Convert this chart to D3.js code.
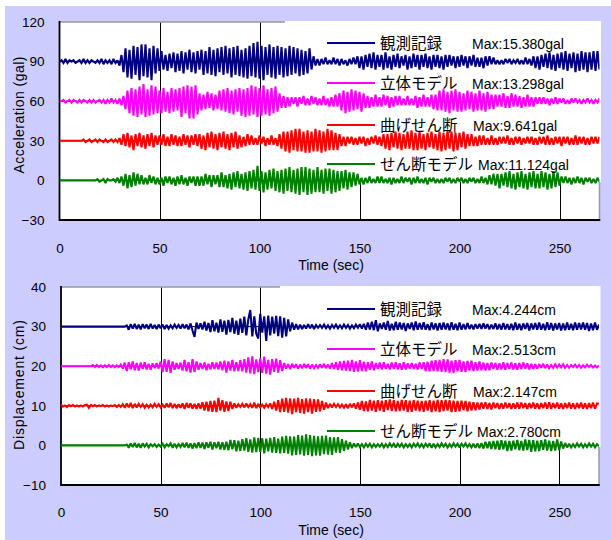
<!DOCTYPE html>
<html><head><meta charset="utf-8">
<script src="https://cdn.jsdelivr.net/npm/d3@7"></script>
<style>body{margin:0;background:#fff}svg{display:block}</style></head>
<body>
<script>
// ---------- data ----------
const seriesNames = ["観測記録", "立体モデル", "曲げせん断", "せん断モデル"];
const seriesColors = ["#000080", "#FF00FF", "#FF0000", "#008000"];
const accMaxLabels = ["Max:15.380gal", "Max:13.298gal", "Max:9.641gal", "Max:11.124gal"];
const dispMaxLabels = ["Max:4.244cm", "Max:2.513cm", "Max:2.147cm", "Max:2.780cm"];
const accOffsets = [90, 60, 30, 0];
const dispOffsets = [30, 20, 10, 0];
const xTicks = [0, 50, 100, 150, 200, 250];
const accTicks = [-30, 0, 30, 60, 90, 120];
const dispTicks = [-10, 0, 10, 20, 30, 40];
const sampleStep = 1; // sec

// acceleration (gal), one value per second, 0..270 s
const obsAcc = [0,1,-1,2,-1,1,0,1,-1,0, 1,-1,2,-1,1,-1,1,0,-1,1, -1,2,-2,1,-1,1,-2,2,-1,1,
 -3,5,-8,10,-12,9,-13,12,-10,11, -14,13,-11,13,-12,10,-14,12,-9,10, -7,8,-6,5,-7,6,-5,7,-8,6,
 -7,8,-9,7,-6,9,-8,7,-9,8, -6,9,-10,8,-9,11,-10,9,-11,10, -8,11,-10,12,-9,10,-12,11,-10,12,
 -11,9,-12,10,-13,12,-11,14,-12,15, -13,12,-14,11,-10,13,-12,11,-13,12, -10,11,-12,10,-11,12,-10,11,-9,10,
 -11,9,-10,8,-9,10,-6,4,-3,2, -3,2,-2,3,-2,1,-2,3,-2,2, -3,2,-2,1,-3,2,-2,3,-2,4,
 -5,4,-6,5,-4,6,-5,7,-6,5, -4,5,-6,7,-5,4,-6,5,-4,6, -5,4,-3,5,-6,4,-5,6,-4,5,
 -6,5,-4,6,-5,4,-6,5,-4,5, -5,4,-6,5,-4,5,-3,4,-5,4, -4,5,-3,4,-5,4,-3,5,-4,3,
 -4,3,-5,4,-3,4,-2,3,-2,1, -2,1,-2,2,-1,2,-2,1,-1,2, -2,1,-2,3,-2,2,-3,4,-5,4,
 -6,5,-4,6,-5,7,-6,5,-7,6, -5,7,-6,8,-7,6,-5,7,-8,6, -7,8,-6,7,-8,7,-6,8,-7,8, -6];
const modelAcc = [0,0,1,-1,0,1,-1,1,0,-1, 1,-1,1,0,-1,1,-1,1,-1,0, 1,-1,1,-2,1,-1,2,-1,1,-2,
 2,-3,4,-6,8,-9,10,-11,9,-12, 11,-10,13,-12,9,-11,12,-10,11,-9, 8,-9,10,-8,7,-9,10,-8,9,-7,
 10,-12,11,-9,12,-13,11,-13,12,-10, 6,-7,5,-6,7,-5,6,-7,5,-6, 8,-7,9,-8,10,-9,8,-10,9,-8,
 10,-11,9,-12,10,-11,12,-10,11,-12, 10,-11,12,-10,9,-11,10,-9,11,-8, 6,-5,4,-5,3,-4,3,-2,3,-4,
 3,-2,4,-3,2,-3,4,-2,3,-3, 2,-3,4,-3,2,-4,3,-4,5,-4, 6,-7,8,-9,7,-8,9,-7,8,-6,
 7,-8,6,-5,4,-5,3,-4,5,-4, 3,-4,5,-3,4,-5,3,-4,4,-3, 4,-3,2,-3,4,-3,2,-3,4,-5,
 3,-4,5,-4,3,-4,5,-6,5,-7, 8,-7,9,-8,7,-9,8,-7,9,-8, 7,-8,6,-7,8,-6,7,-8,6,-7,
 8,-7,6,-8,7,-6,5,-6,5,-4, 5,-4,6,-5,4,-5,6,-4,5,-4, 4,-5,3,-4,5,-4,3,-4,3,-2,
 3,-2,3,-2,2,-3,2,-2,3,-2, 2,-1,2,-2,1,-2,2,-1,2,-1, 1,-2,1,-1,2,-1,1,-2,1,-1, 2];
const bsAcc = [0,0,0,0,0,0,0,0,0,0, 0,0,1,-1,0,1,-1,0,1,-1, 1,0,-1,1,-1,0,1,-1,1,-1,
 2,-3,5,-4,6,-5,4,-7,5,-4, 6,-5,4,-6,5,-4,6,-5,4,-3, 4,-3,5,-4,3,-4,5,-3,4,-4,
 3,-4,5,-3,4,-5,4,-3,5,-4, 5,-6,4,-7,6,-5,7,-6,5,-7, 6,-5,7,-6,5,-7,6,-5,7,-6,
 4,-5,3,-4,5,-3,4,-3,2,-3, 4,-2,3,-4,2,-3,4,-3,2,-4, 5,-6,7,-8,7,-9,8,-7,9,-8,
 9,-8,7,-9,8,-9,7,-8,9,-8, 8,-9,7,-8,9,-7,8,-7,6,-7, 5,-4,3,-4,3,-2,3,-3,2,-3,
 3,-2,3,-4,2,-3,3,-2,4,-3, 3,-4,5,-6,5,-7,6,-5,7,-6, 6,-7,5,-6,7,-6,8,-7,6,-7,
 7,-6,5,-7,6,-5,7,-6,5,-7, 7,-8,6,-7,8,-6,7,-8,6,-7, 6,-5,7,-6,5,-4,5,-4,3,-4,
 4,-3,4,-3,2,-3,4,-3,2,-3, 3,-2,3,-2,4,-3,2,-3,3,-2, 3,-3,2,-2,3,-2,3,-3,2,-3,
 3,-2,3,-3,4,-3,2,-3,3,-2, 3,-4,3,-2,3,-3,2,-3,4,-3, 3,-2,3,-3,2,-3,3,-2,3,-2, 3];
const shearAcc = [0,0,0,0,0,0,0,0,0,0, 0,0,0,0,0,0,0,0,0,1, -1,0,1,-2,1,0,0,1,-1,2,
 -2,3,-4,5,-6,4,-5,6,-4,5, -3,4,-3,2,-3,4,-2,3,-3,2, -3,2,-4,3,-2,3,-3,2,-4,3,
 -3,4,-3,2,-4,3,-2,3,-4,3, -4,3,-4,5,-3,4,-5,4,-3,4, -5,6,-5,4,-6,5,-7,6,-5,7,
 -6,5,-7,6,-8,7,-6,8,-7,11, -8,7,-9,6,-7,8,-6,9,-8,7, -9,8,-10,9,-8,10,-9,8,-10,9,
 -11,10,-9,10,-11,9,-10,8,-9,10, -9,8,-10,9,-8,9,-10,8,-9,7, -8,7,-6,8,-7,6,-5,6,-4,5,
 -3,2,-3,2,-2,3,-2,1,-2,3, -2,3,-2,1,-2,2,-3,2,-2,1, -2,3,-2,2,-1,2,-3,2,-2,3,
 -2,1,-2,2,-3,2,-1,2,-2,1, -2,1,-2,2,-1,2,-2,1,-2,2, -1,2,-2,1,-2,2,-1,2,-2,1,
 -2,3,-2,2,-3,4,-3,5,-4,5, -6,5,-4,6,-5,7,-6,5,-7,6, -5,7,-6,5,-7,6,-5,7,-6,5,
 -6,7,-5,6,-7,5,-6,7,-5,6, -4,3,-2,3,-2,2,-3,2,-2,3, -2,2,-3,2,-1,2,-2,1,-2,2, -1];

// displacement (cm), one value per second, 0..270 s
const obsDisp = [0,0,0,0,0,0,0,0,0,0, 0,0,0,0,0,0,0,0,0,0, 0,0,0,0,0,0,0,0,0,0,
 0,0,0,0.3,-0.8,0.6,-0.5,0.7,-0.6,0.5, -0.7,0.6,-0.4,0.5,-0.6,0.7,-0.5,0.4,-0.6,0.5, -0.4,0.5,-0.6,0.4,-0.5,0.3,-0.4,0.5,-0.3,0.4,
 -0.5,0.6,-0.4,0.5,-0.7,0.8,-1.0,-2.6,1.0,-0.6, 0.8,-0.7,1.2,-1.0,0.9,-1.4,1.6,-1.2,1.0,-1.5, 1.8,-1.3,1.5,-2.0,1.7,-1.4,2.2,-1.8,1.5,-2.1,
 2.0,-1.6,2.5,-2.2,1.8,4.2,-2.5,2.6,-1.8,-3.0, 3.2,-1.5,2.6,-3.6,2.8,-2.2,2.5,-1.8,2.7,-2.4, 2.6,-2.8,2.2,-2.5,1.8,-1.2,1.0,-0.8,0.6,-0.7,
 0.5,-0.6,0.4,-0.5,0.6,-0.4,0.5,-0.6,0.4,-0.3, 0.4,-0.3,0.5,-0.4,0.3,-0.5,0.4,-0.3,0.5,-0.4, 0.3,-0.4,0.5,-0.3,0.4,-0.5,0.3,-0.4,0.5,-0.3,
 0.6,-0.5,0.7,-0.8,1.0,-0.7,1.2,-0.9,1.6,-1.2, 0.8,-0.6,1.0,-0.8,1.4,-1.0,0.7,-0.9,1.2,-0.8, 1.0,-0.7,0.9,-1.1,0.8,-0.6,1.0,-0.9,1.3,-0.8,
 0.9,-0.7,1.1,-0.8,0.6,-0.9,1.0,-0.7,0.8,-1.0, 0.9,-0.8,1.0,-0.7,0.8,-0.9,1.1,-0.8,0.7,-0.9, 1.0,-0.8,0.6,-0.7,0.9,-0.6,0.5,-0.7,0.6,-0.5,
 0.7,-0.6,0.8,-0.5,0.6,-0.7,0.5,-0.6,0.8,-0.7, 0.6,-0.8,0.9,-0.7,0.6,-0.8,0.7,-0.9,1.0,-0.8, 0.7,-0.9,0.8,-0.6,0.9,-1.0,0.8,-0.7,0.9,-0.8,
 1.0,-0.8,0.7,-0.9,1.1,-0.8,0.9,-1.0,0.8,-0.7, 0.9,-1.0,0.8,-0.9,1.0,-0.8,0.7,-0.9,1.0,-0.8, 0.9,-0.7,1.0,-0.8,0.9,-1.1,0.8,-0.9,1.0,-0.8, 0.5];
const modelDisp = [0,0,0,0,0,0,0,0,0,0, 0,0,0,0,0,0,0.3,-0.2,0.3,-0.2, 0.2,-0.3,0.2,-0.2,0.3,-0.2,0.2,-0.3,0.2,-0.2,
 0.4,-0.6,0.9,-1.2,1.0,-0.8,1.2,-1.0,0.8,-1.1, 0.9,-0.7,1.0,-0.8,0.6,-0.9,0.7,-0.5,0.8,-0.6, 1.2,-1.5,1.8,-1.4,1.6,-1.7,1.2,-0.9,0.8,-0.7,
 0.9,-1.1,1.6,-1.3,1.0,-1.6,1.8,-1.5,1.2,-0.9, 0.8,-0.7,0.9,-1.0,0.6,-0.8,1.0,-0.7,0.9,-0.8, 1.2,-1.0,1.4,-1.6,1.2,-1.1,1.6,-1.3,1.0,-1.2,
 1.5,-1.3,1.8,-1.6,2.2,-1.8,2.5,-2.0,1.7,-1.5, 2.0,-1.7,2.4,-1.9,1.6,-2.1,1.8,-1.4,1.9,-1.6, 1.5,-1.2,0.8,-0.6,0.5,-0.7,0.6,-0.4,0.5,-0.6,
 0.4,-0.5,0.6,-0.4,0.5,-0.6,0.4,-0.5,0.3,-0.4, 0.5,-0.4,0.6,-0.5,0.4,-0.6,0.8,-0.7,1.0,-0.9, 1.2,-1.0,1.3,-1.1,1.4,-1.2,1.6,-1.4,1.2,-1.3,
 1.5,-1.2,1.1,-1.3,1.0,-0.9,1.2,-1.0,0.8,-0.7, 0.9,-0.8,1.0,-0.7,0.6,-0.8,0.9,-0.7,1.0,-0.8, 0.7,-0.9,1.0,-0.8,0.7,-0.6,0.8,-0.7,0.6,-0.8,
 0.9,-0.7,1.0,-1.2,1.1,-1.3,1.4,-1.2,1.5,-1.3, 1.6,-1.4,1.8,-1.5,1.7,-1.6,1.4,-1.7,1.5,-1.3, 1.6,-1.4,1.2,-1.5,1.3,-1.1,1.4,-1.2,1.0,-1.1,
 1.2,-1.0,0.9,-1.1,0.8,-1.0,0.9,-0.7,0.8,-0.9, 0.7,-0.8,1.0,-0.9,0.8,-0.7,0.9,-0.8,0.7,-0.9, 0.8,-0.7,0.9,-0.6,0.7,-0.8,0.6,-0.7,0.5,-0.6,
 0.5,-0.4,0.6,-0.5,0.4,-0.5,0.3,-0.4,0.5,-0.3, 0.4,-0.3,0.5,-0.4,0.3,-0.4,0.3,-0.2,0.4,-0.3, 0.3,-0.4,0.2,-0.3,0.4,-0.2,0.3,-0.3,0.2,-0.3, 0.2];
const bsDisp = [0.3,-0.2,0.1,-0.3,0.2,-0.1,0.2,-0.2,0.1,-0.2, 0.1,-0.2,0.2,0.3,-0.5,0.2,-0.1,0.2,-0.2,0.1, -0.1,0.2,-0.2,0.1,-0.2,0.1,-0.1,0.2,-0.3,0.2,
 -0.3,0.4,-0.5,0.6,-0.4,0.7,-0.6,0.5,-0.4,0.5, -0.3,0.4,-0.5,0.3,-0.4,0.3,-0.4,0.5,-0.3,0.4, -0.4,0.3,-0.5,0.6,-0.4,0.7,-0.6,0.5,-0.6,0.4,
 -0.5,0.6,-0.8,0.7,-0.5,0.6,-0.7,0.5,-0.8,0.6, -0.7,0.9,-1.2,1.0,-1.4,1.2,-1.5,1.3,-1.6,2.0, -1.2,1.4,-1.5,1.1,-1.3,1.0,-0.8,0.6,-0.5,0.4,
 -0.3,0.5,-0.4,0.6,-0.3,0.4,-0.5,0.8,-0.6,0.5, -0.4,0.3,-0.5,0.4,-0.3,0.6,-0.8,1.0,-1.2,1.4, -1.6,1.8,-1.5,2.0,-1.7,1.9,-2.1,1.8,-1.6,2.0,
 -1.8,1.7,-2.0,1.9,-1.6,1.8,-2.0,1.7,-1.5,1.6, -1.4,1.2,-1.0,0.8,-0.6,0.5,-0.4,0.5,-0.3,0.4, -0.4,0.3,-0.5,0.4,-0.6,0.5,-0.4,0.6,-0.7,0.8,
 -1.0,1.2,-1.3,1.1,-1.4,1.5,-1.2,1.3,-1.5,1.4, -1.2,1.3,-1.5,1.4,-1.1,1.6,-1.3,1.5,-1.4,1.2, -1.3,1.5,-1.2,1.4,-1.6,1.3,-1.5,1.4,-1.2,1.3,
 -1.4,1.2,-1.5,1.3,-1.2,1.4,-1.6,1.3,-1.4,1.5, -1.6,1.4,-1.3,1.5,-1.2,1.4,-1.6,1.3,-1.5,1.2, -1.4,1.3,-1.1,1.2,-1.4,1.0,-1.2,0.9,-1.1,0.8,
 -0.9,0.8,-0.7,0.9,-0.8,0.7,-0.9,0.8,-0.6,0.7, -0.8,0.6,-0.7,0.8,-0.6,0.7,-0.8,0.6,-0.7,0.8, -0.7,0.8,-0.6,0.7,-0.8,0.7,-0.6,0.8,-0.7,0.6,
 -0.8,0.7,-0.6,0.8,-0.7,0.9,-0.8,0.7,-0.6,0.8, -0.7,0.6,-0.8,0.7,-0.6,0.8,-0.7,0.6,-0.8,0.7, -0.6,0.8,-0.7,0.6,-0.8,0.7,-0.6,0.8,-0.7,0.6, 0.5];
const shearDisp = [0,0,0,0,0,0,0,0,0,0, 0,0,0,0,0,0,0,0,0,0, 0,0,0,0,0,0,0,0,0,0,
 0,0,0,0.2,-0.6,0.5,-0.4,0.6,-0.5,0.4, -0.6,0.5,-0.3,0.4,-0.5,0.3,-0.2,0.3,-0.4,0.2, -0.3,0.4,-0.5,0.3,-0.2,0.5,-0.6,0.4,-0.5,0.3,
 -0.4,0.6,-0.5,0.7,-0.6,0.5,-0.8,0.6,-0.7,0.8, -0.6,0.7,-0.9,0.8,-0.6,0.9,-1.0,0.8,-0.7,0.9, -1.0,0.8,-1.1,0.9,-1.2,1.4,-1.0,1.3,-1.5,1.2,
 -1.4,1.6,-1.3,1.8,-1.6,1.5,-1.8,2.0,-1.7,1.9, -1.6,1.8,-2.0,1.7,-1.5,1.9,-1.8,2.1,-1.9,1.7, -2.0,2.2,-1.9,2.4,-2.1,2.3,-2.5,2.2,-2.4,2.6,
 -2.3,2.5,-2.6,2.8,-2.4,2.6,-2.7,2.4,-2.5,2.3, -2.6,2.4,-2.2,2.5,-2.3,2.1,-2.4,2.0,-1.8,2.1, -1.9,1.6,-1.4,1.2,-1.0,0.8,-0.7,0.5,-0.4,0.5,
 -0.4,0.3,-0.5,0.4,-0.3,0.4,-0.5,0.3,-0.4,0.3, -0.3,0.4,-0.5,0.3,-0.4,0.5,-0.3,0.4,-0.5,0.4, -0.3,0.4,-0.5,0.3,-0.4,0.3,-0.5,0.4,-0.3,0.5,
 -0.4,0.3,-0.5,0.4,-0.3,0.5,-0.6,0.4,-0.5,0.3, -0.4,0.5,-0.3,0.4,-0.5,0.3,-0.4,0.5,-0.3,0.4, -0.5,0.4,-0.3,0.5,-0.4,0.3,-0.5,0.4,-0.6,0.5,
 -0.7,0.6,-0.8,0.9,-0.7,1.0,-0.9,1.1,-1.0,1.2, -1.1,1.3,-1.0,1.2,-1.4,1.1,-1.3,1.2,-1.0,1.4, -1.2,1.1,-1.3,1.5,-1.2,1.4,-1.6,1.3,-1.5,1.2,
 -1.4,1.3,-1.1,1.5,-1.3,1.2,-1.4,1.1,-1.3,1.5, -1.2,1.0,-0.8,0.6,-0.5,0.4,-0.5,0.3,-0.4,0.5, -0.3,0.4,-0.5,0.3,-0.4,0.5,-0.3,0.4,-0.5,0.3, -0.2];

// ---------- drawing ----------
const W = 611, H = 540;
const svg = d3.select("body").append("svg").attr("width", W).attr("height", H);
svg.append("rect").attr("x", 0).attr("y", 0).attr("width", W).attr("height", H).attr("fill", "#ffffff");
svg.append("rect").attr("x", 5).attr("y", 6).attr("width", W - 5).attr("height", H - 6).attr("fill", "#CCCCFF");

const numFont = "'Liberation Sans', Arial, sans-serif";
const jpFont = "'Noto Sans CJK JP', sans-serif";

function drawPanel(cfg, idx) {
  const x = d3.scaleLinear().domain([0, 270]).range([cfg.left, cfg.right]);
  const y = d3.scaleLinear().domain([cfg.ticks[0], cfg.ticks[cfg.ticks.length - 1]]).range([cfg.bottom, cfg.top]);
  const g = svg.append("g");

  g.append("rect").attr("x", cfg.left).attr("y", cfg.top)
    .attr("width", cfg.right - cfg.left).attr("height", cfg.bottom - cfg.top).attr("fill", "#fff");

  // grid
  g.selectAll(".vg").data(xTicks.filter(d => d > 0)).join("line")
    .attr("x1", d => Math.round(x(d)) + 0.5).attr("x2", d => Math.round(x(d)) + 0.5)
    .attr("y1", cfg.top).attr("y2", cfg.bottom).attr("stroke", "#000").attr("stroke-width", 1);
  g.selectAll(".hg").data(cfg.offsets).join("line")
    .attr("x1", cfg.left).attr("x2", cfg.right)
    .attr("y1", d => y(d)).attr("y2", d => y(d)).attr("stroke", "#000").attr("stroke-width", 1);

  // legend background (covers grid)
  g.append("rect").attr("x", cfg.legLeft).attr("y", cfg.top - 1)
    .attr("width", cfg.right - cfg.legLeft + 1.5).attr("height", cfg.legBottom - cfg.top + 1).attr("fill", "#fff");

  // frame
  g.append("line").attr("x1", cfg.left).attr("x2", cfg.legLeft).attr("y1", cfg.top).attr("y2", cfg.top)
    .attr("stroke", "#9a9a9a").attr("stroke-width", 1.5);
  g.append("line").attr("x1", cfg.right).attr("x2", cfg.right).attr("y1", cfg.legBottom).attr("y2", cfg.bottom)
    .attr("stroke", "#9a9a9a").attr("stroke-width", 1.5);
  g.append("line").attr("x1", cfg.left).attr("x2", cfg.left).attr("y1", cfg.top - 1).attr("y2", cfg.bottom + 1)
    .attr("stroke", "#000").attr("stroke-width", 1.8);
  g.append("line").attr("x1", cfg.left).attr("x2", cfg.right + 0.75).attr("y1", cfg.bottom).attr("y2", cfg.bottom)
    .attr("stroke", "#000").attr("stroke-width", 1.8);

  // series
  const clipId = "clip" + idx;
  svg.append("clipPath").attr("id", clipId).append("rect")
    .attr("x", cfg.left).attr("y", cfg.top).attr("width", cfg.right - cfg.left).attr("height", cfg.bottom - cfg.top);
  const line = d3.line().x((d, i) => x(i * sampleStep)).y(d => d);
  cfg.series.forEach((vals, k) => {
    const pts = vals.map(v => y(cfg.offsets[k] + v));
    g.append("path").attr("clip-path", `url(#${clipId})`)
      .attr("d", line(pts)).attr("fill", "none")
      .attr("stroke", seriesColors[k]).attr("stroke-width", 2.1)
      .attr("stroke-linejoin", "miter").attr("stroke-miterlimit", 2);
  });

  // legend
  cfg.legRows.forEach((ry, k) => {
    g.append("line").attr("x1", 327).attr("x2", 375).attr("y1", ry).attr("y2", ry)
      .attr("stroke", seriesColors[k]).attr("stroke-width", 2);
    g.append("text").attr("x", 380).attr("y", ry + 6).attr("font-family", jpFont)
      .attr("font-size", "15.5px").attr("fill", "#000").text(seriesNames[k]);
    g.append("text").attr("x", cfg.maxX[k]).attr("y", ry + 5.5).attr("font-family", numFont)
      .attr("font-size", "14px").attr("fill", "#000").text(cfg.maxLabels[k]);
  });

  // axes labels (via d3 axes, no tick lines)
  const ay = g.append("g").attr("transform", `translate(${cfg.left},0)`)
    .call(d3.axisLeft(y).tickValues(cfg.ticks).tickSize(0).tickPadding(15));
  ay.select(".domain").remove();
  ay.selectAll("text").attr("font-family", numFont).attr("font-size", "13.5px").attr("fill", "#000");
  const ax = g.append("g").attr("transform", `translate(0,${cfg.bottom})`)
    .call(d3.axisBottom(x).tickValues(xTicks).tickSize(0).tickPadding(cfg.xPad));
  ax.select(".domain").remove();
  ax.selectAll("text").attr("font-family", numFont).attr("font-size", "13.5px").attr("fill", "#000");

  // titles
  g.append("text").attr("transform", `translate(24,${cfg.yTitleY}) rotate(-90)`)
    .attr("text-anchor", "middle").attr("font-family", numFont).attr("font-size", "14px")
    .attr("textLength", cfg.yTitleLen).attr("lengthAdjust", "spacing").attr("fill", "#000").text(cfg.yTitle);
  g.append("text").attr("x", 331).attr("y", cfg.xTitleY).attr("text-anchor", "middle")
    .attr("font-family", numFont).attr("font-size", "14px").attr("fill", "#000").text("Time (sec)");
}

drawPanel({
  left: 59.5, right: 599.5, top: 22, bottom: 220, ticks: accTicks, offsets: accOffsets,
  series: [obsAcc, modelAcc, bsAcc, shearAcc], legLeft: 285, legBottom: 182,
  legRows: [43, 83, 125, 164], maxX: [472, 472, 473, 478], maxLabels: accMaxLabels,
  xPad: 23, yTitle: "Acceleration (gal)", yTitleY: 115, yTitleLen: 117, xTitleY: 270
}, 0);
drawPanel({
  left: 61, right: 599, top: 287, bottom: 485, ticks: dispTicks, offsets: dispOffsets,
  series: [obsDisp, modelDisp, bsDisp, shearDisp], legLeft: 280, legBottom: 447,
  legRows: [309, 349, 391, 431], maxX: [472, 472, 473, 477], maxLabels: dispMaxLabels,
  xPad: 22, yTitle: "Displacement (cm)", yTitleY: 385, yTitleLen: 130, xTitleY: 535
}, 1);
</script>
</body></html>
